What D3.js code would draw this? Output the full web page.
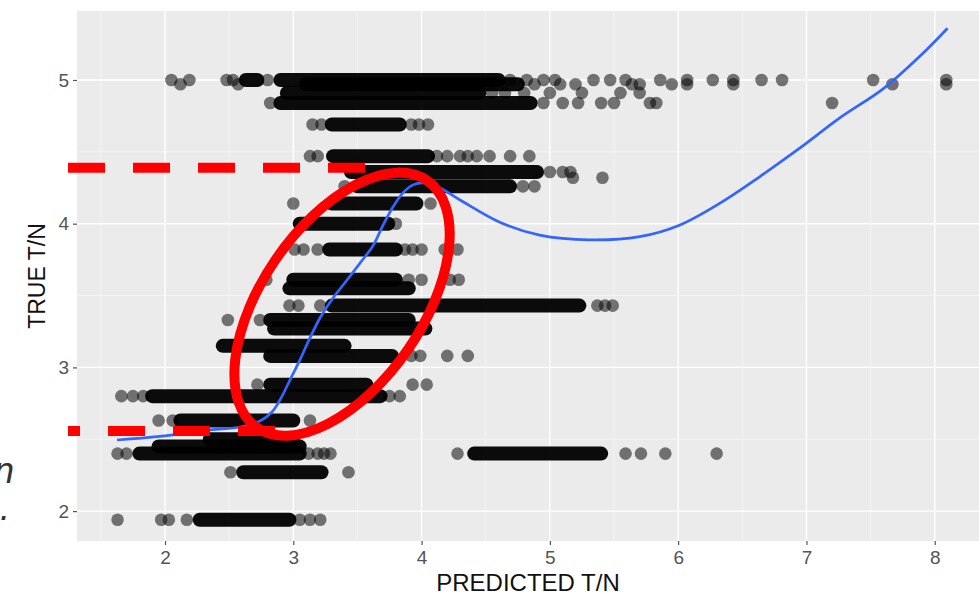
<!DOCTYPE html>
<html><head><meta charset="utf-8">
<script src="https://cdn.jsdelivr.net/npm/d3@7"></script>
<style>body{margin:0;background:#fff;} svg{display:block;}</style>
</head><body><svg id="c" width="979" height="595"></svg>
<script>
// ---- data ----
const xTicks = [2, 3, 4, 5, 6, 7, 8];
const yTicks = [2, 3, 4, 5];
const xMinor = [1.5, 2.5, 3.5, 4.5, 5.5, 6.5, 7.5];
const yMinor = [2.5, 3.5, 4.5];

// TRUE T/N levels (rows of points)
const rowY = [5.00, 4.97, 4.91, 4.84, 4.69, 4.47, 4.36, 4.32, 4.26, 4.14, 4.00, 3.82, 3.61, 3.55, 3.43, 3.33, 3.27, 3.15, 3.08, 2.88, 2.80, 2.63, 2.50, 2.45, 2.40, 2.27, 1.94];
// dense runs of overlapping points (PREDICTED T/N from..to) per row
const rowRuns = [
  [[2.63,2.72],[2.9,4.6]],
  [[3.1,4.75]],
  [[2.95,4.45]],
  [[2.9,4.85]],
  [[3.3,3.83]],
  [[3.31,4.05]],
  [[3.45,4.9]],
  [],
  [[3.5,4.69]],
  [[3.3,3.96]],
  [[3.05,3.74]],
  [[3.28,3.8]],
  [[3.0,3.8]],
  [[2.97,3.9]],
  [[3.3,5.23]],
  [[2.82,3.9]],
  [[2.85,4.03]],
  [[2.45,3.4]],
  [[2.82,3.77]],
  [[2.82,3.57]],
  [[1.9,3.68]],
  [[2.12,3.0]],
  [[2.35,3.0]],
  [[1.95,3.05]],
  [[1.8,3.05],[4.41,5.4]],
  [[2.61,3.22]],
  [[2.27,2.97]]
];
// isolated points (PREDICTED T/N) per row
const rowSparse = [
  [2.05,2.19,2.48,2.53,2.8,4.69,4.82,4.95,5.04,5.34,5.47,5.59,5.86,6.07,6.27,6.43,6.65,6.81,7.52,8.09],
  [2.12,2.57,4.88,5.08,5.2,5.64,5.7,5.95,6.07,6.43,7.67,8.09],
  [4.55,4.65,4.8,5.0,5.25,5.55,5.7],
  [2.82,4.95,5.1,5.22,5.4,5.5,5.78,5.83,7.2],
  [3.15,3.22,3.92,3.98,4.05],
  [3.13,3.19,4.12,4.2,4.3,4.36,4.43,4.53,4.69,4.84],
  [5.0,5.1,5.16],
  [5.18,5.41],
  [3.4,4.79,4.88],
  [3.0,4.07],
  [3.8],
  [3.01,3.08,3.19,3.87,3.93,4.0,4.18,4.28],
  [2.79,3.9,4.0,4.22,4.29],
  [],
  [2.97,3.04,3.21,5.37,5.43,5.49],
  [2.49,2.74],
  [],
  [],
  [3.92,3.99,4.2,4.36],
  [2.72,3.93,4.04],
  [1.66,1.75,1.83,3.75,3.83],
  [1.95,2.06,3.13],
  [],
  [],
  [1.63,1.7,3.12,3.19,3.24,3.29,4.28,5.59,5.71,5.9,6.3],
  [2.51,3.43],
  [1.63,1.97,2.03,2.17,3.05,3.13,3.21]
];

// smoothed (loess) curve
const loessX = [1.626,1.96,2.35,2.585,2.74,2.834,2.896,2.974,3.052,3.13,3.208,3.31,3.419,3.52,3.62,3.70,3.777,3.855,3.933,4.026,4.14,4.30,4.61,4.92,5.31,5.70,6.01,6.32,6.64,6.95,7.26,7.60,7.89,8.10];
const loessY = [2.495,2.52,2.565,2.585,2.627,2.69,2.773,2.912,3.052,3.205,3.344,3.483,3.608,3.726,3.845,3.99,4.116,4.214,4.27,4.283,4.25,4.165,4.01,3.92,3.887,3.91,3.99,4.14,4.33,4.527,4.736,4.94,5.17,5.36];

// red annotations
const refLineY = [4.39, 2.557];
const refLineX0 = [1.244, 1.244];
const refLineX1 = [3.56, 2.865];
const ellipseCenter = [3.38, 3.44];

// ---- drawing ----
const svg = d3.select('#c');
const L = 77, R = 979, T = 11, B = 541;
const x = d3.scaleLinear().domain([1.314, 8.345]).range([L, R]);
const y = d3.scaleLinear().domain([1.792, 5.48]).range([B, T]);
const font = "'Liberation Sans', Arial, sans-serif";

svg.append('rect').attr('x', L).attr('y', T).attr('width', R - L).attr('height', B - T).attr('fill', '#ebebeb');

const grid = svg.append('g');
grid.selectAll('.xm').data(xMinor).join('line')
  .attr('x1', d => x(d)).attr('x2', d => x(d)).attr('y1', T).attr('y2', B)
  .attr('stroke', '#f6f6f6').attr('stroke-width', 0.8);
grid.selectAll('.ym').data(yMinor).join('line')
  .attr('y1', d => y(d)).attr('y2', d => y(d)).attr('x1', L).attr('x2', R)
  .attr('stroke', '#f6f6f6').attr('stroke-width', 0.8);
grid.selectAll('.xM').data(xTicks).join('line')
  .attr('x1', d => x(d)).attr('x2', d => x(d)).attr('y1', T).attr('y2', B)
  .attr('stroke', '#ffffff').attr('stroke-width', 1.4);
grid.selectAll('.yM').data(yTicks).join('line')
  .attr('y1', d => y(d)).attr('y2', d => y(d)).attr('x1', L).attr('x2', R)
  .attr('stroke', '#ffffff').attr('stroke-width', 1.4);

// points
const rows = rowY.map((v, i) => ({ y: v, runs: rowRuns[i], pts: rowSparse[i] }));
const runData = rows.flatMap(r => r.runs.map(s => ({ y: r.y, x0: s[0], x1: s[1] })));
const ptData = rows.flatMap(r => r.pts.map(p => ({ y: r.y, x: p })));

svg.append('g').selectAll('line').data(runData).join('line')
  .attr('x1', d => x(d.x0)).attr('x2', d => x(d.x1))
  .attr('y1', d => y(d.y)).attr('y2', d => y(d.y))
  .attr('stroke', '#000').attr('stroke-width', 14).attr('stroke-linecap', 'round')
  .attr('opacity', 0.95);
svg.append('g').selectAll('circle').data(ptData).join('circle')
  .attr('cx', d => x(d.x)).attr('cy', d => y(d.y)).attr('r', 6.3)
  .attr('fill', '#000').attr('opacity', 0.52);

// loess line
const lineGen = d3.line().x(d => x(d[0])).y(d => y(d[1])).curve(d3.curveCatmullRom.alpha(0.5));
svg.append('path').datum(loessX.map((v, i) => [v, loessY[i]]))
  .attr('d', lineGen).attr('fill', 'none').attr('stroke', '#3366ff').attr('stroke-width', 2.7);

// axes
const yAxis = svg.append('g').attr('transform', `translate(${L},0)`)
  .call(d3.axisLeft(y).tickValues(yTicks).tickFormat(d3.format('d')).tickSize(4).tickPadding(4));
const xAxis = svg.append('g').attr('transform', `translate(0,${B})`)
  .call(d3.axisBottom(x).tickValues(xTicks).tickFormat(d3.format('d')).tickSize(4).tickPadding(6));
[xAxis, yAxis].forEach(a => {
  a.select('.domain').remove();
  a.selectAll('.tick line').attr('stroke', '#555').attr('stroke-width', 1.2);
  a.selectAll('.tick text').attr('fill', '#555').style('font-family', font).style('font-size', '19px');
});

svg.append('text').attr('x', (L + R) / 2).attr('y', 591).attr('text-anchor', 'middle')
  .style('font-family', font).style('font-size', '24px').attr('fill', '#111').text('PREDICTED T/N');
svg.append('text').attr('transform', `translate(45,${(T + B) / 2}) rotate(-90)`).attr('text-anchor', 'middle')
  .style('font-family', font).style('font-size', '23px').attr('fill', '#111').text('TRUE T/N');

// red annotations
refLineY.forEach((v, i) => {
  svg.append('line').attr('x1', x(refLineX0[i])).attr('x2', x(refLineX1[i]))
    .attr('y1', y(v)).attr('y2', y(v))
    .attr('stroke', '#ff0000').attr('stroke-width', 10)
    .attr('stroke-dasharray', '37 28').attr('stroke-dashoffset', i === 0 ? 0 : 25);
});
svg.append('ellipse')
  .attr('transform', `translate(${x(ellipseCenter[0])},${y(ellipseCenter[1])}) rotate(-55.4)`)
  .attr('rx', 150).attr('ry', 80).attr('fill', 'none').attr('stroke', '#ff0000').attr('stroke-width', 10);

// cropped slide text at left edge
svg.append('text').attr('x', 14).attr('y', 483).attr('text-anchor', 'end')
  .style('font-family', font).style('font-style', 'italic').style('font-size', '36px').attr('fill', '#333').text('n');
svg.append('text').attr('x', 10).attr('y', 520).attr('text-anchor', 'end')
  .style('font-family', font).style('font-style', 'italic').style('font-size', '36px').attr('fill', '#333').text('.');
</script></body></html>
